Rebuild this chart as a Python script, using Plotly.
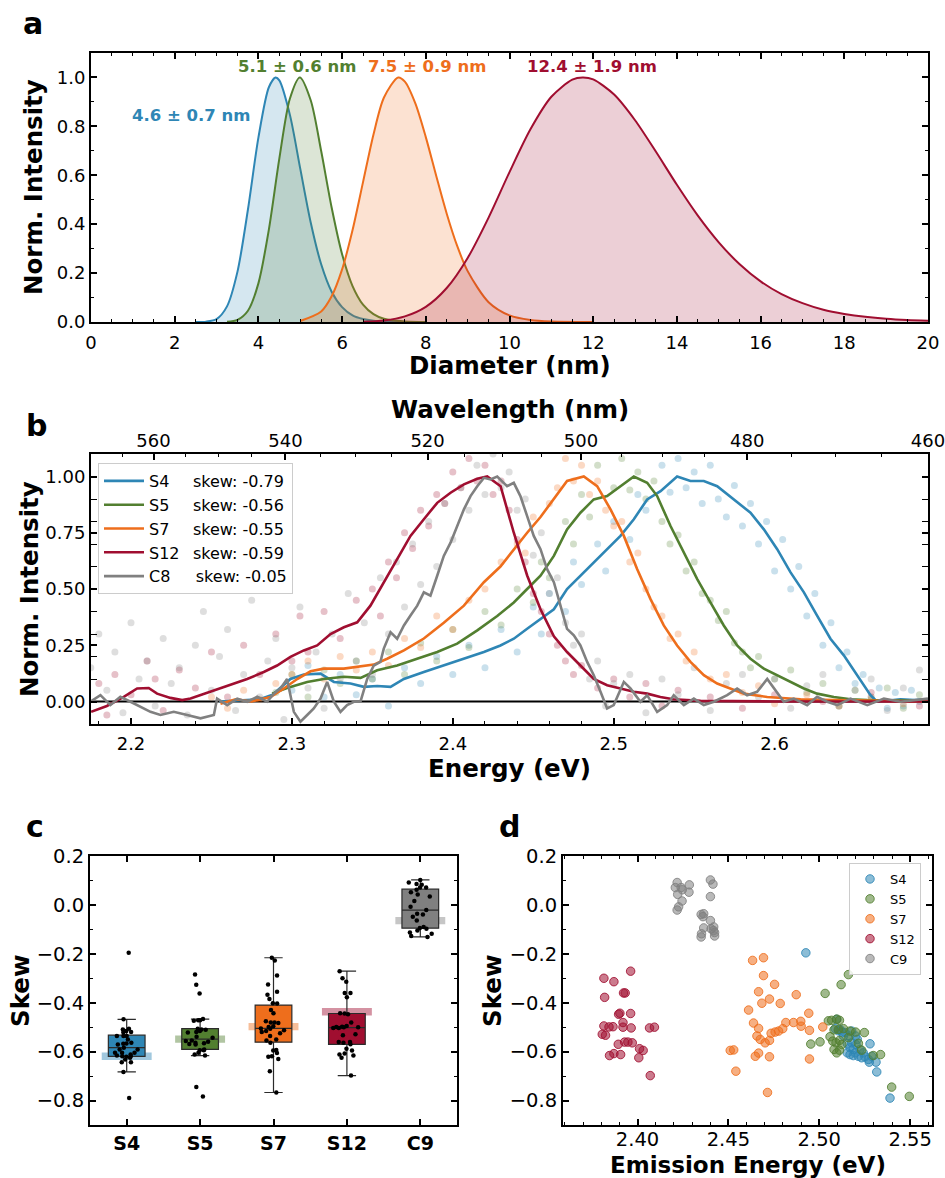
import plotly.graph_objects as go

W, H = 945, 1178
def fx(px): return px / W
def fy(py): return 1 - py / H

FONT = "DejaVu Sans"
HC = 1239.84

# ---------------- colours ----------------
C_BLUE = (46, 134, 181)
C_GREEN = (82, 127, 48)
C_ORANGE = (238, 110, 28)
C_RED = (160, 14, 48)
C_GRAY = (128, 128, 128)
def rgb(c): return "rgb(%d,%d,%d)" % c
def rgba(c, a): return "rgba(%d,%d,%d,%.3f)" % (c[0], c[1], c[2], a)

# ---------------- panel a data: size distributions ----------------
mean_d = [4.6, 5.1, 7.5, 12.4]
std_d = [0.7, 0.6, 0.9, 1.9]

diam_s4 = [2.5, 2.75, 3.0, 3.25, 3.5, 3.75, 4.0, 4.25, 4.41, 4.5, 4.75, 5.0, 5.25, 5.5, 5.75, 6.0, 6.25, 6.5, 6.75, 7.0, 7.5]
norm_s4 = [0.0001, 0.0014, 0.012, 0.064, 0.206, 0.46, 0.754, 0.96, 1.0, 0.988, 0.849, 0.627, 0.407, 0.236, 0.124, 0.061, 0.027, 0.012, 0.005, 0.002, 0.0002]
diam_s5 = [3.25, 3.5, 3.75, 4.0, 4.25, 4.5, 4.75, 4.99, 5.25, 5.5, 5.75, 6.0, 6.25, 6.5, 6.75, 7.0, 7.5, 8.0]
norm_s5 = [0.001, 0.0086, 0.046, 0.158, 0.378, 0.668, 0.912, 1.0, 0.907, 0.699, 0.468, 0.277, 0.147, 0.071, 0.032, 0.013, 0.002, 0.0002]
diam_s7 = [5.0, 5.5, 5.75, 6.0, 6.25, 6.5, 6.75, 7.0, 7.34, 7.5, 7.75, 8.0, 8.25, 8.5, 8.75, 9.0, 9.5, 10.0, 10.5, 11.0, 12.0]
norm_s7 = [0.004, 0.043, 0.105, 0.215, 0.376, 0.572, 0.767, 0.918, 1.0, 0.983, 0.894, 0.756, 0.597, 0.443, 0.311, 0.208, 0.081, 0.027, 0.008, 0.002, 0.0001]
diam_s12 = [6.5, 7.0, 7.5, 8.0, 8.5, 9.0, 9.5, 10.0, 10.5, 11.0, 11.5, 11.75, 12.0, 12.5, 13.0, 13.5, 14.0, 14.5, 15.0, 15.5, 16.0, 16.5, 17.0, 17.5, 18.0, 18.5, 19.0, 19.5, 20.0]
norm_s12 = [0.0014, 0.0064, 0.023, 0.062, 0.139, 0.262, 0.427, 0.613, 0.788, 0.921, 0.991, 1.0, 0.992, 0.930, 0.825, 0.696, 0.561, 0.435, 0.326, 0.236, 0.166, 0.114, 0.077, 0.050, 0.033, 0.021, 0.013, 0.008, 0.005]

# ---------------- panel b data: spectra ----------------
spec_names = ["S4", "S5", "S7", "S12", "C8"]
spec_skew = [-0.79, -0.56, -0.55, -0.59, -0.05]

e_s4 = [2.255, 2.270, 2.280, 2.288, 2.2991, 2.3074, 2.3178, 2.3261, 2.3364, 2.3447, 2.3530, 2.3613, 2.3696, 2.3820, 2.3944, 2.4069, 2.4193, 2.4296, 2.4379, 2.4462, 2.4545, 2.4628, 2.4710, 2.4793, 2.4876, 2.4959, 2.5042, 2.5125, 2.5208, 2.5291, 2.5394, 2.5477, 2.5560, 2.5643, 2.5746, 2.5850, 2.5933, 2.6016, 2.6099, 2.6182, 2.6264, 2.6347, 2.6430, 2.6513, 2.6596, 2.6637, 2.6700, 2.6782, 2.6870, 2.6953]
i_s4 = [0.0, 0.005, 0.01, 0.03, 0.10, 0.12, 0.124, 0.087, 0.08, 0.065, 0.069, 0.065, 0.10, 0.131, 0.16, 0.19, 0.22, 0.249, 0.279, 0.323, 0.367, 0.41, 0.50, 0.559, 0.618, 0.677, 0.736, 0.81, 0.898, 0.935, 1.0, 0.98, 0.98, 0.957, 0.898, 0.839, 0.765, 0.677, 0.574, 0.485, 0.382, 0.279, 0.205, 0.117, 0.028, -0.001, 0.005, 0.01, 0.006, 0.01]
e_s5 = [2.2877, 2.2991, 2.3095, 2.3198, 2.3323, 2.3427, 2.3530, 2.3654, 2.3778, 2.3903, 2.4027, 2.4152, 2.4276, 2.4379, 2.4462, 2.4545, 2.4628, 2.4710, 2.4793, 2.4876, 2.4959, 2.5042, 2.5125, 2.5208, 2.5270, 2.5353, 2.5436, 2.5519, 2.5601, 2.5684, 2.5767, 2.5850, 2.5933, 2.6016, 2.6099, 2.6182, 2.6264, 2.6368, 2.6472, 2.6576, 2.6953]
i_s5 = [0.035, 0.065, 0.087, 0.10, 0.11, 0.105, 0.139, 0.16, 0.19, 0.22, 0.257, 0.316, 0.38, 0.44, 0.50, 0.559, 0.647, 0.765, 0.839, 0.898, 0.913, 0.957, 1.0, 0.972, 0.913, 0.78, 0.662, 0.544, 0.441, 0.338, 0.249, 0.19, 0.146, 0.117, 0.087, 0.058, 0.035, 0.02, 0.01, 0.006, 0.003]
e_s7 = [2.2556, 2.2650, 2.2750, 2.2867, 2.2950, 2.3033, 2.3116, 2.3198, 2.3323, 2.3406, 2.3509, 2.3592, 2.3696, 2.3820, 2.3944, 2.4069, 2.4193, 2.4296, 2.4379, 2.4462, 2.4545, 2.4628, 2.4710, 2.4814, 2.4897, 2.4980, 2.5063, 2.5146, 2.5228, 2.5311, 2.5394, 2.5477, 2.5560, 2.5643, 2.5726, 2.5809, 2.5954, 2.6161, 2.6368, 2.6953]
i_s7 = [-0.01, 0.01, 0.0, 0.02, 0.058, 0.10, 0.134, 0.146, 0.146, 0.153, 0.164, 0.19, 0.227, 0.28, 0.35, 0.426, 0.53, 0.60, 0.677, 0.75, 0.82, 0.90, 0.98, 1.0, 0.957, 0.854, 0.736, 0.588, 0.456, 0.338, 0.249, 0.176, 0.117, 0.08, 0.058, 0.035, 0.02, 0.01, 0.006, 0.0]
e_s12 = [2.1752, 2.1850, 2.1955, 2.2038, 2.2110, 2.2162, 2.2245, 2.2318, 2.2370, 2.2432, 2.2515, 2.2618, 2.2722, 2.2825, 2.2908, 2.2991, 2.3074, 2.3157, 2.3240, 2.3323, 2.3406, 2.3488, 2.3571, 2.3654, 2.3737, 2.3820, 2.3903, 2.3986, 2.4069, 2.4152, 2.4214, 2.4297, 2.4379, 2.4462, 2.4545, 2.4628, 2.4710, 2.4793, 2.4876, 2.4959, 2.5042, 2.5125, 2.5208, 2.5290, 2.5370, 2.5456, 2.5540, 2.6000, 2.6953]
i_s12 = [-0.046, -0.02, 0.021, 0.058, 0.06, 0.035, 0.016, 0.006, 0.013, 0.028, 0.05, 0.072, 0.10, 0.131, 0.16, 0.198, 0.227, 0.249, 0.30, 0.33, 0.352, 0.426, 0.53, 0.633, 0.736, 0.81, 0.883, 0.928, 0.965, 0.99, 1.0, 0.957, 0.75, 0.56, 0.41, 0.29, 0.22, 0.16, 0.10, 0.072, 0.058, 0.043, 0.035, 0.02, 0.01, 0.006, 0.003, 0.0, 0.0]
e_c8 = [2.1748, 2.1810, 2.1872, 2.1934, 2.1997, 2.2059, 2.2121, 2.2183, 2.2266, 2.2349, 2.2432, 2.2515, 2.2535, 2.2598, 2.2660, 2.2722, 2.2784, 2.2846, 2.2888, 2.2929, 2.2970, 2.3012, 2.3053, 2.3095, 2.3136, 2.3178, 2.3219, 2.3261, 2.3302, 2.3343, 2.3385, 2.3426, 2.3468, 2.3509, 2.3550, 2.3571, 2.3613, 2.3654, 2.3696, 2.3737, 2.3779, 2.3820, 2.3861, 2.3903, 2.3944, 2.3986, 2.4027, 2.4069, 2.4110, 2.4152, 2.4193, 2.4234, 2.4276, 2.4337, 2.4379, 2.4420, 2.4462, 2.4503, 2.4545, 2.4586, 2.4628, 2.4669, 2.4710, 2.4752, 2.4793, 2.4835, 2.4876, 2.4918, 2.4959, 2.5000, 2.5063, 2.5104, 2.5166, 2.5208, 2.5270, 2.5332, 2.5373, 2.5436, 2.5498, 2.5560, 2.5622, 2.5705, 2.5767, 2.5829, 2.5891, 2.5954, 2.5995, 2.6057, 2.6119, 2.6202, 2.6264, 2.6327, 2.6389, 2.6472, 2.6576, 2.6679, 2.6782, 2.6886, 2.6953]
i_c8 = [-0.001, 0.028, -0.016, 0.021, -0.001, -0.024, -0.046, -0.06, -0.046, -0.06, -0.075, -0.06, 0.013, -0.016, 0.013, -0.001, 0.021, -0.001, 0.035, 0.058, 0.10, -0.046, -0.09, -0.06, -0.031, 0.013, 0.087, -0.001, -0.046, -0.016, -0.001, -0.001, 0.10, 0.16, 0.176, 0.235, 0.308, 0.279, 0.338, 0.382, 0.426, 0.485, 0.47, 0.559, 0.647, 0.706, 0.78, 0.854, 0.913, 0.957, 0.994, 0.987, 1.0, 0.957, 0.972, 0.913, 0.824, 0.736, 0.677, 0.588, 0.53, 0.426, 0.323, 0.294, 0.249, 0.176, 0.117, 0.043, -0.031, -0.016, 0.087, 0.058, -0.001, 0.028, -0.046, -0.016, 0.028, -0.016, 0.013, -0.016, -0.001, 0.028, 0.058, 0.028, 0.043, 0.10, 0.058, -0.001, 0.013, -0.016, 0.021, -0.001, -0.016, 0.013, -0.016, 0.013, -0.001, 0.006, 0.013]

# raw (unsmoothed) points shown as faint dots
raw_e_s4 = [2.30, 2.31, 2.32, 2.33, 2.34, 2.35, 2.36, 2.37, 2.38, 2.39, 2.40, 2.41, 2.42, 2.43, 2.44, 2.45, 2.455, 2.46, 2.47, 2.475, 2.48, 2.49, 2.495, 2.50, 2.51, 2.515, 2.52, 2.53, 2.535, 2.54, 2.545, 2.55, 2.555, 2.56, 2.565, 2.57, 2.575, 2.58, 2.585, 2.59, 2.595, 2.60, 2.605, 2.61, 2.615, 2.62, 2.625, 2.63, 2.635, 2.64, 2.645, 2.65, 2.655, 2.66, 2.665, 2.67, 2.675, 2.68, 2.685, 2.69]
raw_i_s4 = [0.05, 0.16, 0.02, 0.12, 0.03, 0.10, -0.02, 0.15, 0.08, 0.20, 0.12, 0.25, 0.15, 0.32, 0.22, 0.42, 0.30, 0.48, 0.40, 0.62, 0.52, 0.70, 0.58, 0.80, 0.72, 0.92, 0.85, 1.05, 0.93, 1.08, 0.95, 1.02, 0.88, 1.05, 0.90, 0.82, 0.96, 0.78, 0.88, 0.70, 0.80, 0.58, 0.72, 0.50, 0.60, 0.38, 0.48, 0.25, 0.35, 0.15, 0.22, 0.08, 0.12, 0.02, 0.06, -0.03, 0.04, -0.02, 0.05, 0.0]
raw_e_s5 = [2.29, 2.30, 2.31, 2.32, 2.33, 2.34, 2.35, 2.36, 2.37, 2.38, 2.39, 2.40, 2.41, 2.42, 2.43, 2.44, 2.45, 2.455, 2.46, 2.47, 2.475, 2.48, 2.485, 2.49, 2.50, 2.505, 2.51, 2.515, 2.52, 2.525, 2.53, 2.535, 2.54, 2.545, 2.55, 2.555, 2.56, 2.565, 2.57, 2.575, 2.58, 2.585, 2.59, 2.60, 2.61, 2.62, 2.63, 2.64, 2.65, 2.66, 2.67, 2.68, 2.69]
raw_i_s5 = [0.04, 0.12, 0.02, 0.14, 0.08, 0.18, 0.10, 0.22, 0.12, 0.26, 0.18, 0.32, 0.24, 0.40, 0.34, 0.50, 0.44, 0.62, 0.55, 0.80, 0.70, 0.92, 0.82, 1.05, 0.95, 1.08, 0.94, 1.02, 0.90, 0.98, 0.80, 0.70, 0.74, 0.58, 0.62, 0.48, 0.45, 0.36, 0.40, 0.26, 0.22, 0.15, 0.20, 0.10, 0.14, 0.04, 0.08, -0.02, 0.05, 0.01, 0.06, -0.03, 0.03]
raw_e_s7 = [2.25, 2.26, 2.27, 2.28, 2.29, 2.30, 2.31, 2.32, 2.33, 2.34, 2.35, 2.36, 2.37, 2.38, 2.39, 2.40, 2.41, 2.42, 2.43, 2.44, 2.445, 2.45, 2.46, 2.465, 2.47, 2.475, 2.48, 2.485, 2.49, 2.495, 2.50, 2.505, 2.51, 2.515, 2.52, 2.525, 2.53, 2.535, 2.54, 2.545, 2.55, 2.56, 2.57, 2.58, 2.59, 2.60, 2.62, 2.64, 2.66, 2.68]
raw_i_s7 = [0.02, -0.03, 0.05, 0.01, 0.08, 0.12, 0.18, 0.10, 0.20, 0.14, 0.22, 0.16, 0.28, 0.24, 0.38, 0.32, 0.45, 0.50, 0.62, 0.70, 0.66, 0.82, 0.88, 0.95, 1.08, 0.98, 1.05, 0.92, 0.98, 0.85, 0.78, 0.80, 0.62, 0.66, 0.50, 0.42, 0.38, 0.28, 0.30, 0.18, 0.22, 0.10, 0.12, 0.04, 0.07, -0.01, 0.03, -0.02, 0.02, -0.01]
raw_e_s12 = [2.18, 2.185, 2.19, 2.20, 2.21, 2.215, 2.22, 2.23, 2.24, 2.25, 2.26, 2.27, 2.28, 2.29, 2.30, 2.305, 2.31, 2.32, 2.33, 2.34, 2.35, 2.355, 2.36, 2.365, 2.37, 2.375, 2.38, 2.385, 2.39, 2.395, 2.40, 2.405, 2.41, 2.415, 2.42, 2.425, 2.43, 2.435, 2.44, 2.445, 2.45, 2.455, 2.46, 2.465, 2.47, 2.475, 2.48, 2.49, 2.50, 2.51, 2.52, 2.53, 2.54, 2.56, 2.58, 2.60, 2.63, 2.66, 2.69]
raw_i_s12 = [0.08, -0.06, 0.12, 0.03, 0.18, 0.10, -0.04, 0.14, 0.06, 0.22, 0.02, 0.25, 0.12, 0.30, 0.18, 0.38, 0.22, 0.40, 0.28, 0.45, 0.50, 0.38, 0.62, 0.55, 0.75, 0.68, 0.85, 0.78, 0.92, 0.88, 1.02, 0.95, 1.08, 0.98, 1.05, 0.92, 0.98, 0.85, 0.72, 0.62, 0.48, 0.40, 0.30, 0.25, 0.18, 0.12, 0.16, 0.06, 0.10, 0.02, 0.08, -0.02, 0.05, 0.02, -0.03, 0.03, 0.0, 0.04, -0.02]
raw_e_c8 = [2.175, 2.18, 2.185, 2.19, 2.195, 2.20, 2.205, 2.21, 2.215, 2.22, 2.225, 2.23, 2.235, 2.24, 2.245, 2.25, 2.255, 2.26, 2.265, 2.27, 2.275, 2.28, 2.285, 2.29, 2.295, 2.30, 2.305, 2.31, 2.315, 2.32, 2.325, 2.33, 2.335, 2.34, 2.345, 2.35, 2.355, 2.36, 2.365, 2.37, 2.375, 2.38, 2.385, 2.39, 2.395, 2.40, 2.405, 2.41, 2.415, 2.42, 2.425, 2.43, 2.435, 2.44, 2.445, 2.45, 2.455, 2.46, 2.465, 2.47, 2.475, 2.48, 2.485, 2.49, 2.495, 2.50, 2.51, 2.52, 2.53, 2.54, 2.55, 2.56, 2.57, 2.58, 2.59, 2.60, 2.61, 2.62, 2.63, 2.64, 2.65, 2.66, 2.67, 2.68, 2.69]
raw_i_c8 = [0.15, 0.30, 0.05, 0.22, -0.05, 0.35, 0.10, 0.18, -0.02, 0.28, 0.08, 0.15, -0.06, 0.25, 0.40, 0.05, 0.20, 0.32, -0.04, 0.12, 0.45, 0.02, 0.18, 0.28, -0.08, 0.15, 0.42, 0.06, 0.22, -0.03, 0.30, 0.10, 0.48, 0.18, 0.35, 0.12, 0.55, 0.30, 0.62, 0.42, 0.70, 0.52, 0.80, 0.60, 0.88, 0.72, 0.95, 0.85, 1.05, 0.92, 1.10, 0.95, 1.02, 0.85, 0.90, 0.65, 0.75, 0.48, 0.55, 0.35, 0.25, 0.30, 0.10, 0.18, -0.02, 0.08, 0.12, -0.05, 0.10, 0.03, 0.15, -0.04, 0.08, 0.12, 0.02, 0.10, -0.03, 0.07, 0.12, -0.02, 0.05, 0.10, -0.04, 0.06, 0.14]

# ---------------- panels c/d data: per-particle emission energy and skew ----------------
cats = ["S4", "S5", "S7", "S12", "C9"]
band_skew = [-0.619, -0.549, -0.498, -0.437, -0.064]

pe_s4 = [2.4926, 2.5087, 2.5114, 2.5142, 2.5178, 2.5200, 2.5178, 2.5202, 2.5169, 2.5187, 2.5154, 2.5169, 2.5187, 2.5215, 2.5233, 2.5251, 2.5270, 2.5288, 2.5279, 2.5312, 2.5275, 2.5316, 2.5389, 2.5165, 2.5133, 2.5209, 2.5224, 2.5154, 2.5197, 2.5242, 2.5095, 2.5105, 2.5125]
sk_s4 = [-0.196, -0.506, -0.509, -0.522, -0.516, -0.536, -0.564, -0.571, -0.584, -0.591, -0.605, -0.612, -0.616, -0.619, -0.625, -0.621, -0.632, -0.619, -0.568, -0.643, -0.643, -0.683, -0.790, -0.536, -0.536, -0.550, -0.591, -0.567, -0.605, -0.605, -0.468, -0.515, -0.520]
pe_s5 = [2.5160, 2.5120, 2.5032, 2.5050, 2.5068, 2.5096, 2.5111, 2.5081, 2.5105, 2.5133, 2.5169, 2.5200, 2.5248, 2.5059, 2.5074, 2.5092, 2.5111, 2.5124, 2.5081, 2.5111, 2.5096, 2.5160, 2.5215, 2.5233, 2.5297, 2.5337, 2.4953, 2.5004, 2.5398, 2.5495]
sk_s5 = [-0.285, -0.326, -0.362, -0.474, -0.472, -0.467, -0.472, -0.511, -0.509, -0.506, -0.516, -0.520, -0.522, -0.539, -0.557, -0.564, -0.554, -0.571, -0.591, -0.594, -0.605, -0.543, -0.566, -0.594, -0.616, -0.612, -0.569, -0.560, -0.745, -0.783]
pe_s7 = [2.4633, 2.4693, 2.4693, 2.4754, 2.4666, 2.4726, 2.4684, 2.4785, 2.4873, 2.4611, 2.4638, 2.4666, 2.4657, 2.4675, 2.4702, 2.4726, 2.4735, 2.4757, 2.4776, 2.4799, 2.4816, 2.4858, 2.4898, 2.4900, 2.4942, 2.4946, 2.5019, 2.4510, 2.4529, 2.4541, 2.4648, 2.4666, 2.4726, 2.4946, 2.4715]
sk_s7 = [-0.227, -0.216, -0.289, -0.325, -0.355, -0.385, -0.402, -0.403, -0.367, -0.430, -0.483, -0.505, -0.536, -0.550, -0.564, -0.554, -0.525, -0.520, -0.516, -0.506, -0.481, -0.481, -0.476, -0.496, -0.443, -0.513, -0.499, -0.595, -0.593, -0.680, -0.619, -0.606, -0.621, -0.630, -0.767]
pe_s12 = [2.3815, 2.3819, 2.3870, 2.3923, 2.3932, 2.3962, 2.3896, 2.3903, 2.3962, 2.3865, 2.3920, 2.3920, 2.3815, 2.3843, 2.3806, 2.3824, 2.3965, 2.3894, 2.3929, 2.3947, 2.3971, 2.4011, 2.4031, 2.4066, 2.4093, 2.3846, 2.3870, 2.3907, 2.4007, 2.4070]
sk_s12 = [-0.300, -0.378, -0.314, -0.360, -0.360, -0.271, -0.447, -0.443, -0.444, -0.498, -0.481, -0.500, -0.495, -0.499, -0.529, -0.533, -0.503, -0.570, -0.561, -0.561, -0.564, -0.588, -0.595, -0.503, -0.500, -0.616, -0.608, -0.612, -0.625, -0.698]
pe_c9 = [2.4218, 2.4208, 2.4240, 2.4285, 2.4221, 2.4283, 2.4245, 2.4218, 2.4401, 2.4415, 2.4401, 2.4350, 2.4364, 2.4401, 2.4419, 2.4364, 2.4424, 2.4424, 2.4350, 2.4405, 2.4418, 2.4352, 2.4226, 2.4360, 2.4246]
sk_c9 = [0.0915, 0.071, 0.071, 0.082, 0.043, 0.052, 0.016, -0.021, 0.102, 0.085, 0.034, -0.039, -0.036, -0.064, -0.090, -0.094, -0.113, -0.127, -0.131, -0.098, -0.105, -0.118, -0.008, -0.048, 0.062]

# wavelength ticks for top axis of panel b
wl_major = [560, 540, 520, 500, 480, 460]
wl_minor = [565, 555, 550, 545, 535, 530, 525, 515, 510, 505, 495, 490, 485, 475, 470, 465]

E_LO, E_HI = HC / 570.0, HC / 460.0
E_RANGE = [E_LO - 2e-5, E_HI + 2e-5]

# ---------------- figure ----------------
fig = go.Figure()

# panel a
for xs, ys, col in [(diam_s4, norm_s4, C_BLUE), (diam_s5, norm_s5, C_GREEN),
                    (diam_s7, norm_s7, C_ORANGE), (diam_s12, norm_s12, C_RED)]:
    fig.add_trace(go.Scatter(x=xs, y=ys, mode="lines", xaxis="x", yaxis="y",
                             line=dict(color=rgb(col), width=2, shape="spline", smoothing=0.8),
                             fill="tozeroy", fillcolor=rgba(col, 0.2),
                             showlegend=False, hoverinfo="skip"))

# panel b dots
spec_cols = [C_BLUE, C_GREEN, C_ORANGE, C_RED, C_GRAY]
raw_sets = [(raw_e_s4, raw_i_s4), (raw_e_s5, raw_i_s5), (raw_e_s7, raw_i_s7),
            (raw_e_s12, raw_i_s12), (raw_e_c8, raw_i_c8)]
for (xs, ys), col in zip(raw_sets, spec_cols):
    fig.add_trace(go.Scatter(x=xs, y=ys, mode="markers", xaxis="x2", yaxis="y2",
                             marker=dict(color=rgba(col, 0.26), size=7),
                             showlegend=False, hoverinfo="skip"))

# panel b lines
line_sets = [(e_s4, i_s4), (e_s5, i_s5), (e_s7, i_s7), (e_s12, i_s12), (e_c8, i_c8)]
pads = ["\u00a0\u00a0\u00a0\u00a0\u2009", "\u00a0\u00a0\u00a0\u00a0\u2009", "\u00a0\u00a0\u00a0\u00a0\u2009",
        "\u00a0\u00a0\u2009", "\u00a0\u00a0\u00a0\u00a0\u00a0"]
for (xs, ys), col, nm, sk, pad in zip(line_sets, spec_cols, spec_names, spec_skew, pads):
    fig.add_trace(go.Scatter(x=xs, y=ys, mode="lines", xaxis="x2", yaxis="y2",
                             line=dict(color=rgb(col), width=2.6),
                             name="%s%sskew: %.2f" % (nm, pad, sk),
                             legendgroup="b_" + nm, legend="legend",
                             hoverinfo="skip"))

# dummy traces so the overlaying wavelength axes exist
fig.add_trace(go.Scatter(x=[], y=[], xaxis="x3", yaxis="y2", showlegend=False))
fig.add_trace(go.Scatter(x=[], y=[], xaxis="x4", yaxis="y2", showlegend=False))

# panel c: ensemble skew bands
band_cols = [rgba(c, 0.45) for c in [C_BLUE, C_GREEN, C_ORANGE, C_RED, C_GRAY]]
BAND_T = 0.03
fig.add_trace(go.Bar(x=cats, y=[BAND_T] * len(cats), base=[v - BAND_T / 2 for v in band_skew],
                     width=0.68, marker=dict(color=band_cols, line=dict(width=0)),
                     xaxis="x5", yaxis="y5", showlegend=False, hoverinfo="skip"))

box_sets = [sk_s4, sk_s5, sk_s7, sk_s12, sk_c9]
box_cols = [C_BLUE, C_GREEN, C_ORANGE, C_RED, C_GRAY]
for cat, vals, col in zip(cats, box_sets, box_cols):
    fig.add_trace(go.Box(x=[cat] * len(vals), y=vals, xaxis="x5", yaxis="y5",
                         boxpoints="all", jitter=0.8, pointpos=0,
                         marker=dict(color="black", size=4.5),
                         line=dict(color="#2b2b2b", width=1.2), fillcolor=rgb(col),
                         width=0.5, whiskerwidth=0.5, showlegend=False, hoverinfo="skip"))

# panel d
pe_sets = [(pe_s4, sk_s4), (pe_s5, sk_s5), (pe_s7, sk_s7), (pe_s12, sk_s12), (pe_c9, sk_c9)]
for (xs, ys), col, nm in zip(pe_sets, box_cols, cats):
    fig.add_trace(go.Scatter(x=xs, y=ys, mode="markers", xaxis="x6", yaxis="y6",
                             marker=dict(color=rgba(col, 0.55), size=8.5,
                                         line=dict(color=rgba(col, 0.85), width=1)),
                             name=nm, legend="legend2", legendgroup="d_" + nm,
                             hoverinfo="skip"))

# ---------------- axes ----------------
def ax(**kw):
    base = dict(showline=True, linecolor="black", linewidth=2, showgrid=False, zeroline=False,
                automargin=False,
                ticks="inside", tickcolor="black", tickwidth=1.5, ticklen=6,
                tickfont=dict(family=FONT, size=18, color="black"))
    base.update(kw)
    return base

def minor(dt, t0=0):
    return dict(ticks="inside", dtick=dt, tick0=t0, ticklen=3, tickwidth=1, tickcolor="black", showgrid=False)

lay = dict(
    template="none",
    width=W, height=H, margin=dict(l=0, r=0, t=0, b=0, pad=0), autosize=False,
    paper_bgcolor="white", plot_bgcolor="white",
    boxmode="overlay", barmode="overlay",
    font=dict(family=FONT, color="black"),
    xaxis=ax(domain=[fx(91), fx(928)], range=[0, 20], tick0=0, dtick=2, anchor="y",
             mirror="allticks", minor=minor(0.5), ticklabelstandoff=3),
    yaxis=ax(domain=[fy(322), fy(53)], range=[0, 1.1], tick0=0, dtick=0.2, tickformat=".1f",
             anchor="x", mirror="allticks", minor=minor(0.1)),
    xaxis2=ax(domain=[fx(91), fx(928)], range=E_RANGE, tick0=2.2, dtick=0.1, tickformat=".1f",
              anchor="y2", mirror=True, minor=minor(0.02, 2.2), ticklabelstandoff=2),
    yaxis2=ax(domain=[fy(724), fy(454)], range=[-0.1, 1.1], tick0=0, dtick=0.25, tickformat=".2f",
              anchor="x2", mirror="allticks", minor=minor(0.1)),
    xaxis3=ax(overlaying="x2", side="top", anchor="y2", range=E_RANGE, showline=False,
              tickmode="array", tickvals=[HC / w for w in wl_major], ticktext=[str(w) for w in wl_major],
              ticklabelstandoff=2, ticklabeloverflow="allow"),
    xaxis4=ax(overlaying="x2", side="top", anchor="y2", range=E_RANGE, showline=False,
              tickmode="array", tickvals=[HC / w for w in wl_minor], ticklen=3, tickwidth=1,
              showticklabels=False),
    xaxis5=ax(domain=[fx(90), fx(457)], range=[-0.5, 4.5], anchor="y5", type="category",
              categoryorder="array", categoryarray=cats, mirror="allticks",
              tickfont=dict(family=FONT, size=19, color="black", weight="bold"), ticklabelstandoff=0),
    yaxis5=ax(domain=[fy(1125), fy(856)], range=[-0.9, 0.2], tick0=0, dtick=0.2, tickformat=".1f",
              anchor="x5", mirror="allticks", minor=minor(0.1),
              tickfont=dict(family=FONT, size=19.5, color="black")),
    xaxis6=ax(domain=[fx(563), fx(932)], range=[2.359, 2.562], tick0=2.4, dtick=0.05, tickformat=".2f",
              anchor="y6", mirror="allticks", minor=minor(0.01, 2.4),
              tickfont=dict(family=FONT, size=19.5, color="black"), ticklabelstandoff=-4),
    yaxis6=ax(domain=[fy(1125), fy(856)], range=[-0.9, 0.2], tick0=0, dtick=0.2, tickformat=".1f",
              anchor="x6", mirror="allticks", minor=minor(0.1),
              tickfont=dict(family=FONT, size=19.5, color="black")),
    legend=dict(x=fx(98), y=fy(463), xanchor="left", yanchor="top",
                font=dict(family=FONT, size=16, color="black"),
                bgcolor="rgba(255,255,255,0.85)", bordercolor="#cccccc", borderwidth=1,
                tracegroupgap=3, itemwidth=40, traceorder="normal"),
    legend2=dict(x=fx(849), y=fy(863), xanchor="left", yanchor="top",
                 font=dict(family=FONT, size=13, color="black"),
                 bgcolor="rgba(255,255,255,0.85)", bordercolor="#cccccc", borderwidth=1,
                 tracegroupgap=0, itemwidth=30, traceorder="normal"),
    shapes=[dict(type="line", xref="x2 domain", x0=0, x1=1, yref="y2", y0=0, y1=0,
                 line=dict(color="black", width=2), layer="below")],
)
fig.update_layout(**lay)

# ---------------- annotations ----------------
ann = []
def txt(text, x, y, size, bold=True, angle=0, color="black", xref="paper", yref="paper"):
    ann.append(dict(text=("<b>%s</b>" % text) if bold else text, x=x, y=y, xref=xref, yref=yref,
                    xanchor="center", yanchor="middle", showarrow=False, textangle=angle,
                    font=dict(family=FONT, size=size, color=color)))

# panel letters
txt("a", fx(33), fy(23), 30)
txt("b", fx(36), fy(425), 30)
txt("c", fx(34.5), fy(826), 30)
txt("d", fx(509), fy(826), 30)
# axis titles
txt("Norm. Intensity", fx(33.5), fy(187.5), 24.5, angle=-90)
txt("Diameter (nm)", fx(509.5), fy(366), 24.5)
txt("Wavelength (nm)", fx(509.5), fy(409), 24.5)
txt("Norm. Intensity", fx(29), fy(589), 24.5, angle=-90)
txt("Energy (eV)", fx(509.5), fy(768), 24.5)
txt("Skew", fx(20.5), fy(990.5), 24.5, angle=-90)
txt("Skew", fx(492.5), fy(990.5), 24.5, angle=-90)
txt("Emission Energy (eV)", fx(747.5), fy(1164.5), 23)
# size labels in panel a
label_pos = [(2.39, 0.843), (4.92, 1.045), (8.03, 1.045), (11.98, 1.045)]
for (lx, ly), m, s, col in zip(label_pos, mean_d, std_d, [C_BLUE, C_GREEN, C_ORANGE, C_RED]):
    txt("%.1f \u00b1 %.1f nm" % (m, s), lx, ly, 16.5, color=rgb(col), xref="x", yref="y")

fig.update_layout(annotations=ann)

fig.write_html("out.html")
